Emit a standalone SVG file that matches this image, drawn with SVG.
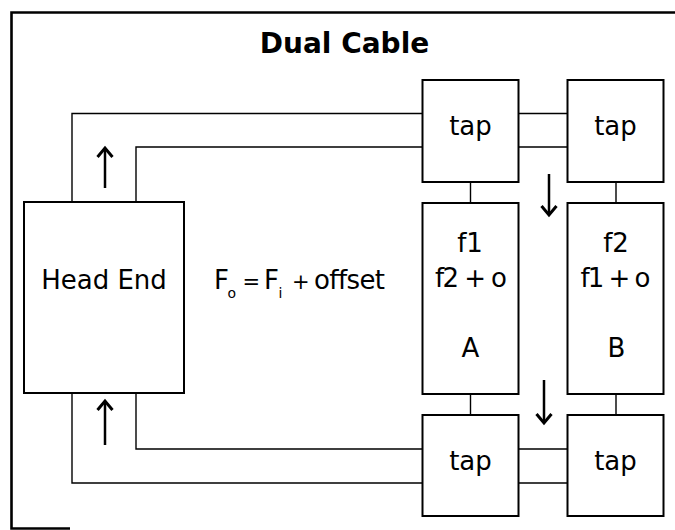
<svg xmlns="http://www.w3.org/2000/svg" width="675" height="530" viewBox="0 0 675 530">
<style>
  .box { fill: #fff; stroke: #000; stroke-width: 2; }
  .wire { fill: none; stroke: #000; stroke-width: 1.4; }
  .arr { fill: none; stroke: #000; stroke-width: 2.5; marker-end: url(#head); }
  .frame { fill: none; stroke: #000; stroke-width: 2.6; }
  .t { font-family: "DejaVu Sans", "Liberation Sans", sans-serif; font-size: 26px; fill: #000; text-anchor: middle; }
  .title { font-family: "DejaVu Sans", "Liberation Sans", sans-serif; font-size: 28px; font-weight: bold; fill: #000; text-anchor: middle; }
  .f { font-family: "DejaVu Sans", "Liberation Sans", sans-serif; font-size: 26px; fill: #000; }
  .sub { font-size: 14px; }
  .op { font-size: 21px; }
</style>
<defs>
  <marker id="head" viewBox="0 0 12 16" refX="10" refY="8" markerWidth="12" markerHeight="16" markerUnits="userSpaceOnUse" orient="auto" overflow="visible">
    <path d="M1,0.5 L10,8 L1,15.5" fill="none" stroke="#000" stroke-width="3"/>
  </marker>
</defs>
<rect width="675" height="530" fill="#fff"/>
<path class="frame" d="M70,528.5 H11.5 V12.5 H676"/>
<text class="title" x="344.5" y="53">Dual Cable</text>

<g id="connectors">
  <path class="wire" d="M72,202 V113.5 H422.5"/>
  <path class="wire" d="M136,202 V147 H422.5"/>
  <path class="wire" d="M136,393 V449 H422.5"/>
  <path class="wire" d="M72,393 V483 H422.5"/>
  <path class="wire" d="M518.5,113.5 H567.5 M518.5,147 H567.5"/>
  <path class="wire" d="M518.5,449 H567.5 M518.5,483 H567.5"/>
  <path class="wire" d="M470.5,182 V203 M616,182 V203 M470.5,394 V415 M616,394 V415"/>
  <path class="arr" d="M105,188 V148"/>
  <path class="arr" d="M105,445 V401"/>
  <path class="arr" d="M549,174 V215"/>
  <path class="arr" d="M544,380 V423"/>
</g>

<g id="head-end">
  <rect class="box" x="24" y="202" width="160" height="191"/>
  <text class="t" x="104" y="289">Head End</text>
</g>

<g id="formula">
  <text class="f" y="289"><tspan x="214">F</tspan><tspan class="sub" x="227.5" y="298">o</tspan><tspan class="op" x="242.5" y="289">=</tspan><tspan x="264">F</tspan><tspan class="sub" x="278.5" y="298">i</tspan><tspan class="op" x="292" y="289">+</tspan><tspan x="314" textLength="71">offset</tspan></text>
</g>

<g id="tap-top-1">
  <rect class="box" x="422.5" y="80" width="96" height="102"/>
  <text class="t" x="470.5" y="135">tap</text>
</g>
<g id="tap-top-2">
  <rect class="box" x="567.5" y="80" width="96" height="102"/>
  <text class="t" x="615.5" y="135">tap</text>
</g>

<g id="subscriber-a">
  <rect class="box" x="422.5" y="203" width="96" height="191"/>
  <text class="t" x="470" y="252">f1</text>
  <text class="t" x="471" y="287" textLength="72">f2 + o</text>
  <text class="t" x="470.5" y="357">A</text>
</g>
<g id="subscriber-b">
  <rect class="box" x="567.5" y="203" width="96" height="191"/>
  <text class="t" x="616" y="252">f2</text>
  <text class="t" x="615.5" y="287" textLength="70">f1 + o</text>
  <text class="t" x="616.5" y="357">B</text>
</g>

<g id="tap-bot-1">
  <rect class="box" x="422.5" y="415" width="96" height="101"/>
  <text class="t" x="470.5" y="470">tap</text>
</g>
<g id="tap-bot-2">
  <rect class="box" x="567.5" y="415" width="96" height="101"/>
  <text class="t" x="615.5" y="470">tap</text>
</g>
</svg>
